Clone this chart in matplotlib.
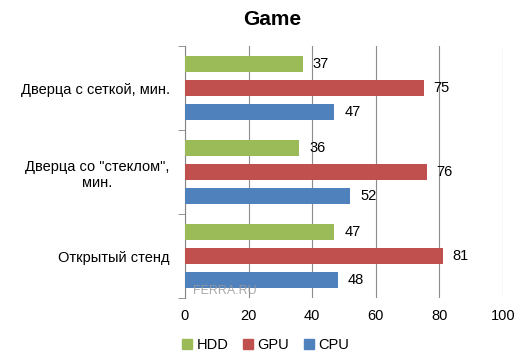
import matplotlib.pyplot as plt
from matplotlib.patches import Patch
import numpy as np

# data
categories = ['Дверца с сеткой, мин.', 'Дверца со "стеклом",\nмин.', 'Открытый стенд']
series = ['HDD', 'GPU', 'CPU']
hdd = [37, 36, 47]
gpu = [75, 76, 81]
cpu = [47, 52, 48]
colors = ['#9BBB59', '#C0504D', '#4F81BD']

plt.rcParams['font.family'] = ['Liberation Sans', 'DejaVu Sans']

fig = plt.figure(figsize=(5.21, 3.61), dpi=100)
ax = fig.add_axes([0.355, 0.1745, 0.6105, 0.698])

y = np.arange(len(categories))
step = 0.285
height = 0.19
for i, (vals, c) in enumerate(zip([hdd, gpu, cpu], colors)):
    pos = y + (i - 1) * step
    ax.barh(pos, vals, height=height, color=c, zorder=3)
    for p, v in zip(pos, vals):
        ax.annotate(str(v), (v, p), xytext=(7, 0), textcoords='offset points',
                    va='center', ha='left', fontsize=10.5)

ax.set_xlim(0, 100)
ax.set_ylim(2.5, -0.5)
ax.set_xticks(range(0, 101, 20))
ax.tick_params(axis='x', length=0, pad=8, labelsize=10.5)
ax.set_yticks(y)
ax.set_yticklabels(categories, multialignment='center')
ax.tick_params(axis='y', which='major', length=0, pad=11, labelsize=10.5)
ax.set_yticks([-0.5, 0.5, 1.5, 2.5], minor=True)
ax.tick_params(axis='y', which='minor', length=5, color='#868686', direction='out')

ax.grid(axis='x', color='#8c8c8c', linewidth=0.8, zorder=0)
for s in ['top', 'right', 'bottom']:
    ax.spines[s].set_visible(False)
ax.spines['left'].set_color('#868686')

fig.text(0.522, 0.945, 'Game', fontsize=15, fontweight='bold', ha='center', va='center')

# watermark
ax.text(0.025, 0.015, 'FERRA.RU', transform=ax.transAxes, fontsize=9,
        color='#9a9a9a', alpha=0.85, zorder=4)

handles = [Patch(color=c) for c in colors]
fig.legend(handles, series, loc='center', bbox_to_anchor=(0.51, 0.045), ncol=3,
           frameon=False, fontsize=10.5, handlelength=0.7, handleheight=0.7,
           handletextpad=0.3, columnspacing=1.0)

fig.savefig('out.png', dpi=100)
